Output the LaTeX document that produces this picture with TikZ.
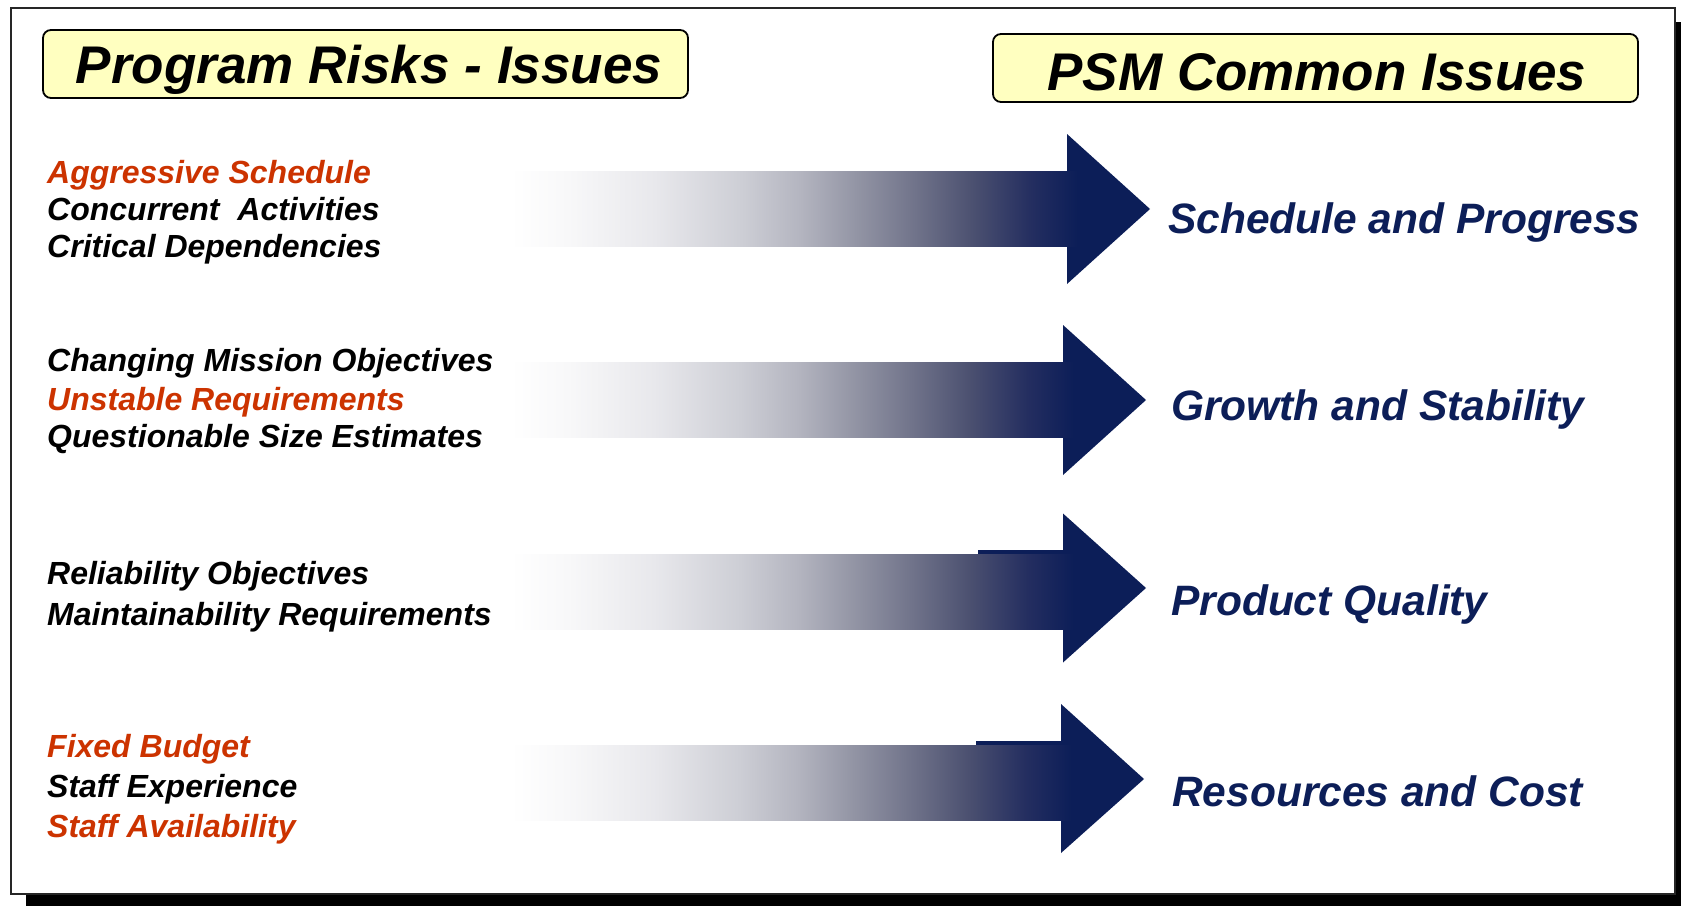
\documentclass[tikz,border=0pt]{standalone}
\usepackage{fontspec}
\setmainfont{Liberation Sans}
\definecolor{navy}{RGB}{12,30,88}
\definecolor{orng}{RGB}{204,51,0}
\definecolor{ylw}{RGB}{255,255,192}
\definecolor{gA}{RGB}{248,248,249}
\definecolor{gB}{RGB}{232,232,236}
\definecolor{gC}{RGB}{205,206,213}
\definecolor{gD}{RGB}{180,181,192}
\definecolor{gE}{RGB}{146,148,164}
\definecolor{gF}{RGB}{112,115,138}
\definecolor{gG}{RGB}{75,80,112}
\definecolor{gH}{RGB}{36,46,96}
\pgfdeclarehorizontalshading{arrowfade}{100bp}{color(0bp)=(white); color(25bp)=(white); color(30bp)=(gA); color(37.5bp)=(gB); color(45bp)=(gC); color(50bp)=(gD); color(55bp)=(gE); color(60bp)=(gF); color(65bp)=(gG); color(70bp)=(gH); color(74bp)=(navy); color(100bp)=(navy)}
\begin{document}
\begin{tikzpicture}[x=1pt,y=-1pt,
  titlebox/.style={draw=black, line width=1.8pt, fill=ylw, rounded corners=8pt},
  titletext/.style={font=\fontsize{53}{60}\selectfont\bfseries\itshape, text=black, inner sep=0pt},
  risk/.style={font=\fontsize{32}{38}\selectfont\bfseries\itshape, text=black, anchor=base west, inner sep=0pt},
  hot/.style={risk, text=orng},
  issue/.style={font=\fontsize{42.5}{50}\selectfont\bfseries\itshape, text=navy, anchor=base west, inner sep=0pt},
  arrowbody/.style={shading=arrowfade},
  arrowhead/.style={fill=navy},
]
\useasboundingbox (0,0) rectangle (1681,905);
% frame with shadow
\fill[black] (26,22) rectangle (1690,915);
\draw[fill=white, draw=black!85, line width=2pt] (11,8) rectangle (1675,894);

% title boxes
\draw[titlebox] (43,30) rectangle (688,98);
\node[titletext, anchor=base] (t1) at (369,83) {Program Risks - Issues};
\draw[titlebox] (993,34) rectangle (1638,102);
\node[titletext, anchor=base] (t2) at (1317,90) {PSM Common Issues};

% arrows: body top, body bottom, head top, head bottom, tip y, head x, tip x
\foreach \aBt/\aBb/\aHt/\aHb/\aTy/\aHx/\aTx [count=\i] in {
   171.5/246.5/134/284/209/1067/1150,
   362/437/325/475/400/1063/1146,
   554/629/513.5/662.5/588/1063/1146,
   745/820/704/853/779/1061/1144}{
  \fill[arrowhead] (\aHx,\aHt) coordinate (h\i a) -- (\aTx,\aTy) coordinate (tip\i) -- (\aHx,\aHb) coordinate (h\i b) -- cycle;
  \pgfmathsetmacro{\aEnd}{\aHx+22}
  \shade[arrowbody] (510,\aBt) rectangle (\aEnd,\aBb);
}
% small artifacts above arrows 3 and 4
\fill[navy] (978,550) rectangle (1064,554);
\fill[navy] (976,741) rectangle (1062,745);

% left texts
\node[hot]  (r11) at (47,183) {Aggressive Schedule};
\node[risk] (r12) at (47,220) {Concurrent\ \ Activities};
\node[risk] (r13) at (47,257) {Critical Dependencies};

\node[risk] (r21) at (47,371) {Changing Mission Objectives};
\node[hot]  (r22) at (47,410) {Unstable Requirements};
\node[risk] (r23) at (47,447) {Questionable Size Estimates};

\node[risk] (r31) at (47,584) {Reliability Objectives};
\node[risk] (r32) at (47,625) {Maintainability Requirements};

\node[hot]  (r41) at (47,757) {Fixed Budget};
\node[risk] (r42) at (47,797) {Staff Experience};
\node[hot]  (r43) at (47,837) {Staff Availability};

% right issues
\node[issue] (i1) at (1168,233) {Schedule and Progress};
\node[issue] (i2) at (1171,420) {Growth and Stability};
\node[issue] (i3) at (1171,615) {Product Quality};
\node[issue] (i4) at (1172,806) {Resources and Cost};
\end{tikzpicture}
\end{document}
